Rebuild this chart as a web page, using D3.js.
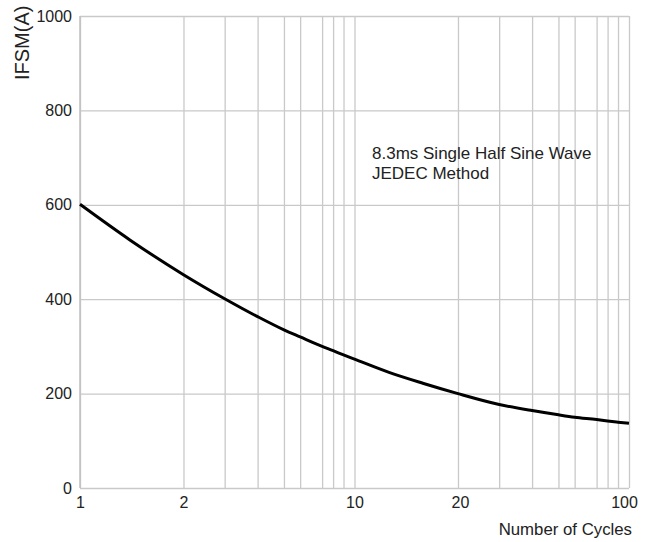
<!DOCTYPE html>
<html>
<head>
<meta charset="utf-8">
<script src="https://cdn.jsdelivr.net/npm/d3@7"></script>
<style>
  body { margin: 0; background: #fff; }
  svg text { font-family: Arial, "Liberation Sans", sans-serif; fill: #222; }
</style>
</head>
<body>
<svg id="chart" width="649" height="542"></svg>
<script>
// curve
let cycles = [1, 1.4, 2, 3, 4, 5, 6, 7, 8, 9, 10, 12.6, 15.8, 20, 30, 40, 50, 60, 70, 80, 90, 100]
let ifsm   = [601, 525, 452, 401, 363, 335, 320, 300, 291, 282, 273, 245, 222, 200, 177, 164, 155, 150, 145, 142, 139.5, 137]

let gridCycles = [1, 2, 3, 4, 5, 6, 7, 8, 9, 10, 20, 30, 40, 50, 60, 70, 80, 90, 100]
let labelCycles = [1, 2, 10, 20, 100]
let yTicks = [0, 200, 400, 600, 800, 1000]

let svg = d3.select('#chart')
let plotLeft = 80, plotRight = 629, plotTop = 16, plotBottom = 488

// the printed log grid is not evenly spaced, so the scale follows the drawn gridlines
let decadeFrac = [0, .377, .527, .647, .743, .802, .882, .922, .96, 1]
let fracs = decadeFrac.concat(decadeFrac.slice(1).map(f => 1 + f))
let x = d3.scaleLog()
          .domain(gridCycles)
          .range(fracs.map(f => plotLeft + f * (plotRight - plotLeft) / 2))

let y = d3.scaleLinear().domain([0, 1000]).range([plotBottom, plotTop])

// vertical grid
svg.append('g')
   .attr('transform', 'translate(0,' + plotBottom + ')')
   .call(d3.axisBottom(x).tickValues(gridCycles).tickSize(-(plotBottom - plotTop)).tickFormat(''))
   .call(g => g.select('.domain').remove())
   .call(g => g.selectAll('line').attr('stroke', '#c9c9c9').attr('stroke-width', 1.3))

// horizontal grid
svg.append('g')
   .attr('transform', 'translate(' + plotLeft + ',0)')
   .call(d3.axisLeft(y).tickValues(yTicks).tickSize(-(plotRight - plotLeft)).tickFormat(''))
   .call(g => g.select('.domain').remove())
   .call(g => g.selectAll('line').attr('stroke', '#c9c9c9').attr('stroke-width', 1.3))

// left border
svg.append('line')
   .attr('x1', plotLeft).attr('x2', plotLeft).attr('y1', plotTop).attr('y2', plotBottom)
   .attr('stroke', '#c0c0c0').attr('stroke-width', 1.5)

// y labels
svg.append('g')
   .attr('transform', 'translate(' + plotLeft + ',0)')
   .call(d3.axisLeft(y).tickValues(yTicks).tickSize(0).tickPadding(8).tickFormat(d3.format('d')))
   .call(g => g.select('.domain').remove())
   .call(g => g.selectAll('text').style('font-size', '16px'))

// x labels
svg.append('g')
   .attr('transform', 'translate(0,' + plotBottom + ')')
   .call(d3.axisBottom(x).tickValues(labelCycles).tickSize(0).tickPadding(9).tickFormat(d3.format('d')))
   .call(g => g.select('.domain').remove())
   .call(g => g.selectAll('text').style('font-size', '16px')
               .attr('dx', d => d == 100 ? -5 : d == 20 ? 2 : 0))

// curve
let line = d3.line()
             .x((d, i) => x(cycles[i]))
             .y(d => y(d))
             .curve(d3.curveMonotoneX)

svg.append('path')
   .datum(ifsm)
   .attr('d', line)
   .attr('fill', 'none')
   .attr('stroke', '#000')
   .attr('stroke-width', 3)

// note
svg.append('text').attr('x', 372).attr('y', 159)
   .style('font-size', '17px').text('8.3ms Single Half Sine Wave')
svg.append('text').attr('x', 372).attr('y', 179)
   .style('font-size', '17px').text('JEDEC Method')

// axis titles
svg.append('text')
   .attr('transform', 'translate(29,80) rotate(-90)')
   .style('font-size', '20px')
   .text('IFSM(A)')

svg.append('text')
   .attr('x', 632).attr('y', 535)
   .attr('text-anchor', 'end')
   .style('font-size', '16.8px')
   .text('Number of Cycles')
</script>
</body>
</html>
